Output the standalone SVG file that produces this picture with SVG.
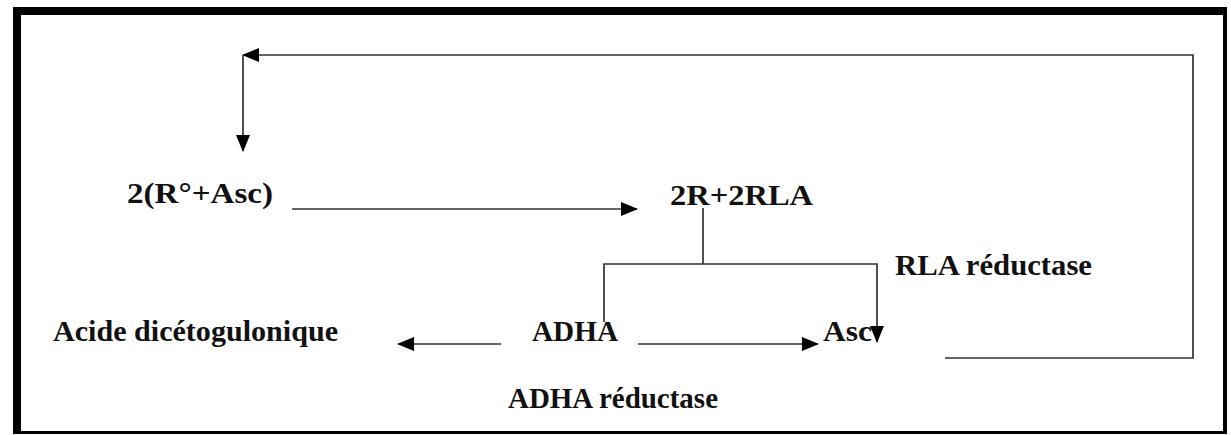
<svg xmlns="http://www.w3.org/2000/svg" width="1231" height="435" viewBox="0 0 1231 435">
<style>
.t{font-family:"Liberation Serif","Times New Roman",serif;font-weight:bold;font-size:29px;fill:#111}
.c{fill:none;stroke:#333;stroke-width:1.7}
</style>
<defs>
<marker id="ah" markerWidth="17" markerHeight="14" refX="16" refY="7" orient="auto" markerUnits="userSpaceOnUse">
<path d="M0,0 L17,7 L0,14 Z" fill="#000"/>
</marker>
</defs>
<rect width="1231" height="435" fill="#fff"/>
<g id="frame" fill="#000">
<rect x="13" y="7" width="1214" height="8"/>
<rect x="13" y="7" width="8" height="427"/>
<rect x="1223" y="7" width="4" height="427"/>
<rect x="13" y="431" width="1214" height="3"/>
</g>
<g id="connectors">
<path class="c" d="M945,358 H1193 V55 H243" marker-end="url(#ah)"/>
<path class="c" d="M243,55 V151" marker-end="url(#ah)"/>
<path class="c" d="M292,209 H637" marker-end="url(#ah)"/>
<path class="c" d="M703,208 V264"/>
<path class="c" d="M604,322 V264 H877 V342" marker-end="url(#ah)"/>
<path class="c" d="M638,344 H818" marker-end="url(#ah)"/>
<path class="c" d="M501,344 H398" marker-end="url(#ah)"/>
</g>
<g id="n-r-asc"><text class="t" x="127" y="203" textLength="146" lengthAdjust="spacingAndGlyphs">2(R°+Asc)</text></g>
<g id="n-2r2rla"><text class="t" x="670" y="205" textLength="143" lengthAdjust="spacingAndGlyphs">2R+2RLA</text></g>
<g id="n-rla-reductase"><text class="t" x="895" y="275" textLength="197" lengthAdjust="spacingAndGlyphs">RLA réductase</text></g>
<g id="n-acide"><text class="t" x="53" y="341" textLength="285" lengthAdjust="spacingAndGlyphs">Acide dicétogulonique</text></g>
<g id="n-adha"><text class="t" x="532" y="341" textLength="86" lengthAdjust="spacingAndGlyphs">ADHA</text></g>
<g id="n-asc"><text class="t" x="823" y="341" textLength="49" lengthAdjust="spacingAndGlyphs">Asc</text></g>
<g id="n-adha-reductase"><text class="t" x="508" y="408" textLength="210" lengthAdjust="spacingAndGlyphs">ADHA réductase</text></g>
</svg>
